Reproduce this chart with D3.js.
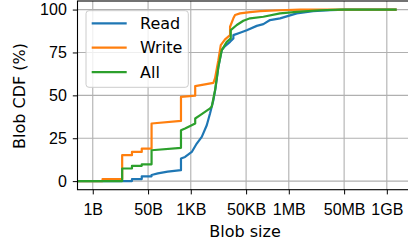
<!DOCTYPE html>
<html>
<head>
<meta charset="utf-8">
<script src="https://cdn.jsdelivr.net/npm/d3@7"></script>
<style>
  body { margin: 0; background: #fff; }
  svg { display: block; font-family: "DejaVu Sans", sans-serif; }
  .tick text { font-size: 16px; fill: #000; }
  .grid line { stroke: #b0b0b0; stroke-width: 1.1; }
</style>
</head>
<body>
<svg width="408" height="243"></svg>
<script>
// Blob sizes in bytes and CDF (%) per series
var readSizes = [0.34, 16, 16, 32, 32, 64, 64, 100, 200, 512, 512, 684, 1098, 1564, 2228, 3170, 4010, 5060, 5900, 7200, 9160, 11560, 16480, 20800, 20800, 33400, 53700, 108800, 173600, 278400, 565000, 1.84e6, 5.84e6, 1.94e7, 6.0e7, 2.147e9];
var readCdf   = [0, 0, 1.2, 1.2, 2.8, 2.8, 3.6, 4.5, 5.5, 6.4, 13.2, 14.1, 17, 21.9, 25.8, 32.6, 39.6, 47.2, 54.2, 66.6, 76.4, 78.7, 81.2, 83.2, 85.1, 86.5, 88, 90.5, 91.5, 93.9, 94.9, 97.8, 99.1, 99.6, 100, 100];

var writeSizes = [0.34, 2, 2, 8, 8, 16, 16, 32, 32, 64, 64, 512, 512, 1400, 1400, 5060, 5700, 7200, 8540, 11560, 16480, 16480, 20800, 23450, 33400, 67800, 137400, 565000, 2.33e6, 2.147e9];
var writeCdf   = [0, 0, 1.2, 1.2, 15.1, 15.1, 17, 17, 19, 19, 33.6, 35.1, 49.1, 49.8, 55.4, 57.3, 60, 70.5, 79.3, 82.6, 85.1, 90, 94.9, 96.8, 97.8, 98.5, 99.1, 99.6, 100, 100];

var allSizes = [0.34, 8, 8, 16, 16, 32, 32, 64, 64, 512, 512, 684, 1400, 1400, 2000, 4010, 4520, 5700, 7200, 9160, 13040, 17300, 17300, 26500, 42200, 67800, 173600, 565000, 1.84e6, 9.57e6, 4e7, 2.147e9];
var allCdf   = [0, 0, 7.35, 7.35, 8.9, 8.9, 9.8, 9.8, 18, 19.4, 29.7, 30.7, 33.6, 36.5, 38.5, 42.4, 43.5, 53, 66.6, 76.4, 81.2, 83.2, 88, 91, 93.5, 94.9, 95.8, 97.8, 98.7, 99.6, 100, 100];

var seriesNames = ['Read', 'Write', 'All'];
var seriesColors = ['#1f77b4', '#ff7f0e', '#2ca02c'];

var xTickValues = [1, 50, 1024, 51200, 1048576, 52428800, 1073741824];
var xTickLabels = ['1B', '50B', '1KB', '50KB', '1MB', '50MB', '1GB'];
var yTickValues = [0, 25, 50, 75, 100];

var svg = d3.select('svg');

// axes box
var plot = { l: 77.5, r: 412.5, t: 1, b: 189.7 };

var xScale = d3.scaleLog().domain([0.34, 6.6e9]).range([plot.l, plot.r]);
var yScale = d3.scaleLinear().domain([-5, 105]).range([plot.b, plot.t]);

// gridlines
var grid = svg.append('g').attr('class', 'grid');
grid.selectAll('.gx')
    .data(xTickValues)
    .enter()
    .append('line')
    .attr('x1', function (d) { return xScale(d); })
    .attr('x2', function (d) { return xScale(d); })
    .attr('y1', plot.t)
    .attr('y2', plot.b);
grid.selectAll('.gy')
    .data(yTickValues)
    .enter()
    .append('line')
    .attr('x1', plot.l)
    .attr('x2', plot.r)
    .attr('y1', function (d) { return yScale(d); })
    .attr('y2', function (d) { return yScale(d); });

// lines
var line = d3.line()
    .x(function (d) { return xScale(d[0]); })
    .y(function (d) { return yScale(d[1]); });

var series = [
    d3.zip(readSizes, readCdf),
    d3.zip(writeSizes, writeCdf),
    d3.zip(allSizes, allCdf)
];

series.forEach(function (pts, i) {
    svg.append('path')
        .datum(pts)
        .attr('d', line)
        .attr('fill', 'none')
        .attr('stroke', seriesColors[i])
        .attr('stroke-width', 2.2)
        .attr('stroke-linejoin', 'round');
});

// spines
svg.append('rect')
    .attr('x', plot.l)
    .attr('y', plot.t)
    .attr('width', plot.r - plot.l)
    .attr('height', plot.b - plot.t)
    .attr('fill', 'none')
    .attr('stroke', '#000')
    .attr('stroke-width', 1.1);

// axes
var xAxis = d3.axisBottom(xScale)
    .tickValues(xTickValues)
    .tickFormat(function (d, i) { return xTickLabels[i]; })
    .tickSize(4.7)
    .tickPadding(9);
var yAxis = d3.axisLeft(yScale)
    .tickValues(yTickValues)
    .tickSize(4.7)
    .tickPadding(6);

var gx = svg.append('g')
    .attr('transform', 'translate(0,' + plot.b + ')')
    .call(xAxis);
gx.select('.domain').remove();
gx.selectAll('.tick text').attr('font-family', null).attr('font-size', null);

var gy = svg.append('g')
    .attr('transform', 'translate(' + plot.l + ',0)')
    .call(yAxis);
gy.select('.domain').remove();
gy.selectAll('.tick text').attr('font-family', null).attr('font-size', null);

// axis labels
svg.append('text')
    .attr('x', 245)
    .attr('y', 236.5)
    .attr('text-anchor', 'middle')
    .attr('font-size', 16)
    .text('Blob size');

svg.append('text')
    .attr('transform', 'translate(25,96)rotate(-90)')
    .attr('text-anchor', 'middle')
    .attr('font-size', 16)
    .text('Blob CDF (%)');

// legend
var legend = svg.append('g');
legend.append('rect')
    .attr('x', 86)
    .attr('y', 10.7)
    .attr('width', 102.3)
    .attr('height', 76.6)
    .attr('rx', 3)
    .attr('fill', '#fff')
    .attr('fill-opacity', 0.8)
    .attr('stroke', '#cccccc')
    .attr('stroke-width', 1);

seriesNames.forEach(function (name, i) {
    var ly = 23.3 + i * 24.4;
    legend.append('line')
        .attr('x1', 91.7)
        .attr('x2', 126.7)
        .attr('y1', ly)
        .attr('y2', ly)
        .attr('stroke', seriesColors[i])
        .attr('stroke-width', 2.2);
    legend.append('text')
        .attr('x', 140)
        .attr('y', ly)
        .attr('dy', '0.36em')
        .attr('font-size', 16)
        .text(name);
});
</script>
</body>
</html>
